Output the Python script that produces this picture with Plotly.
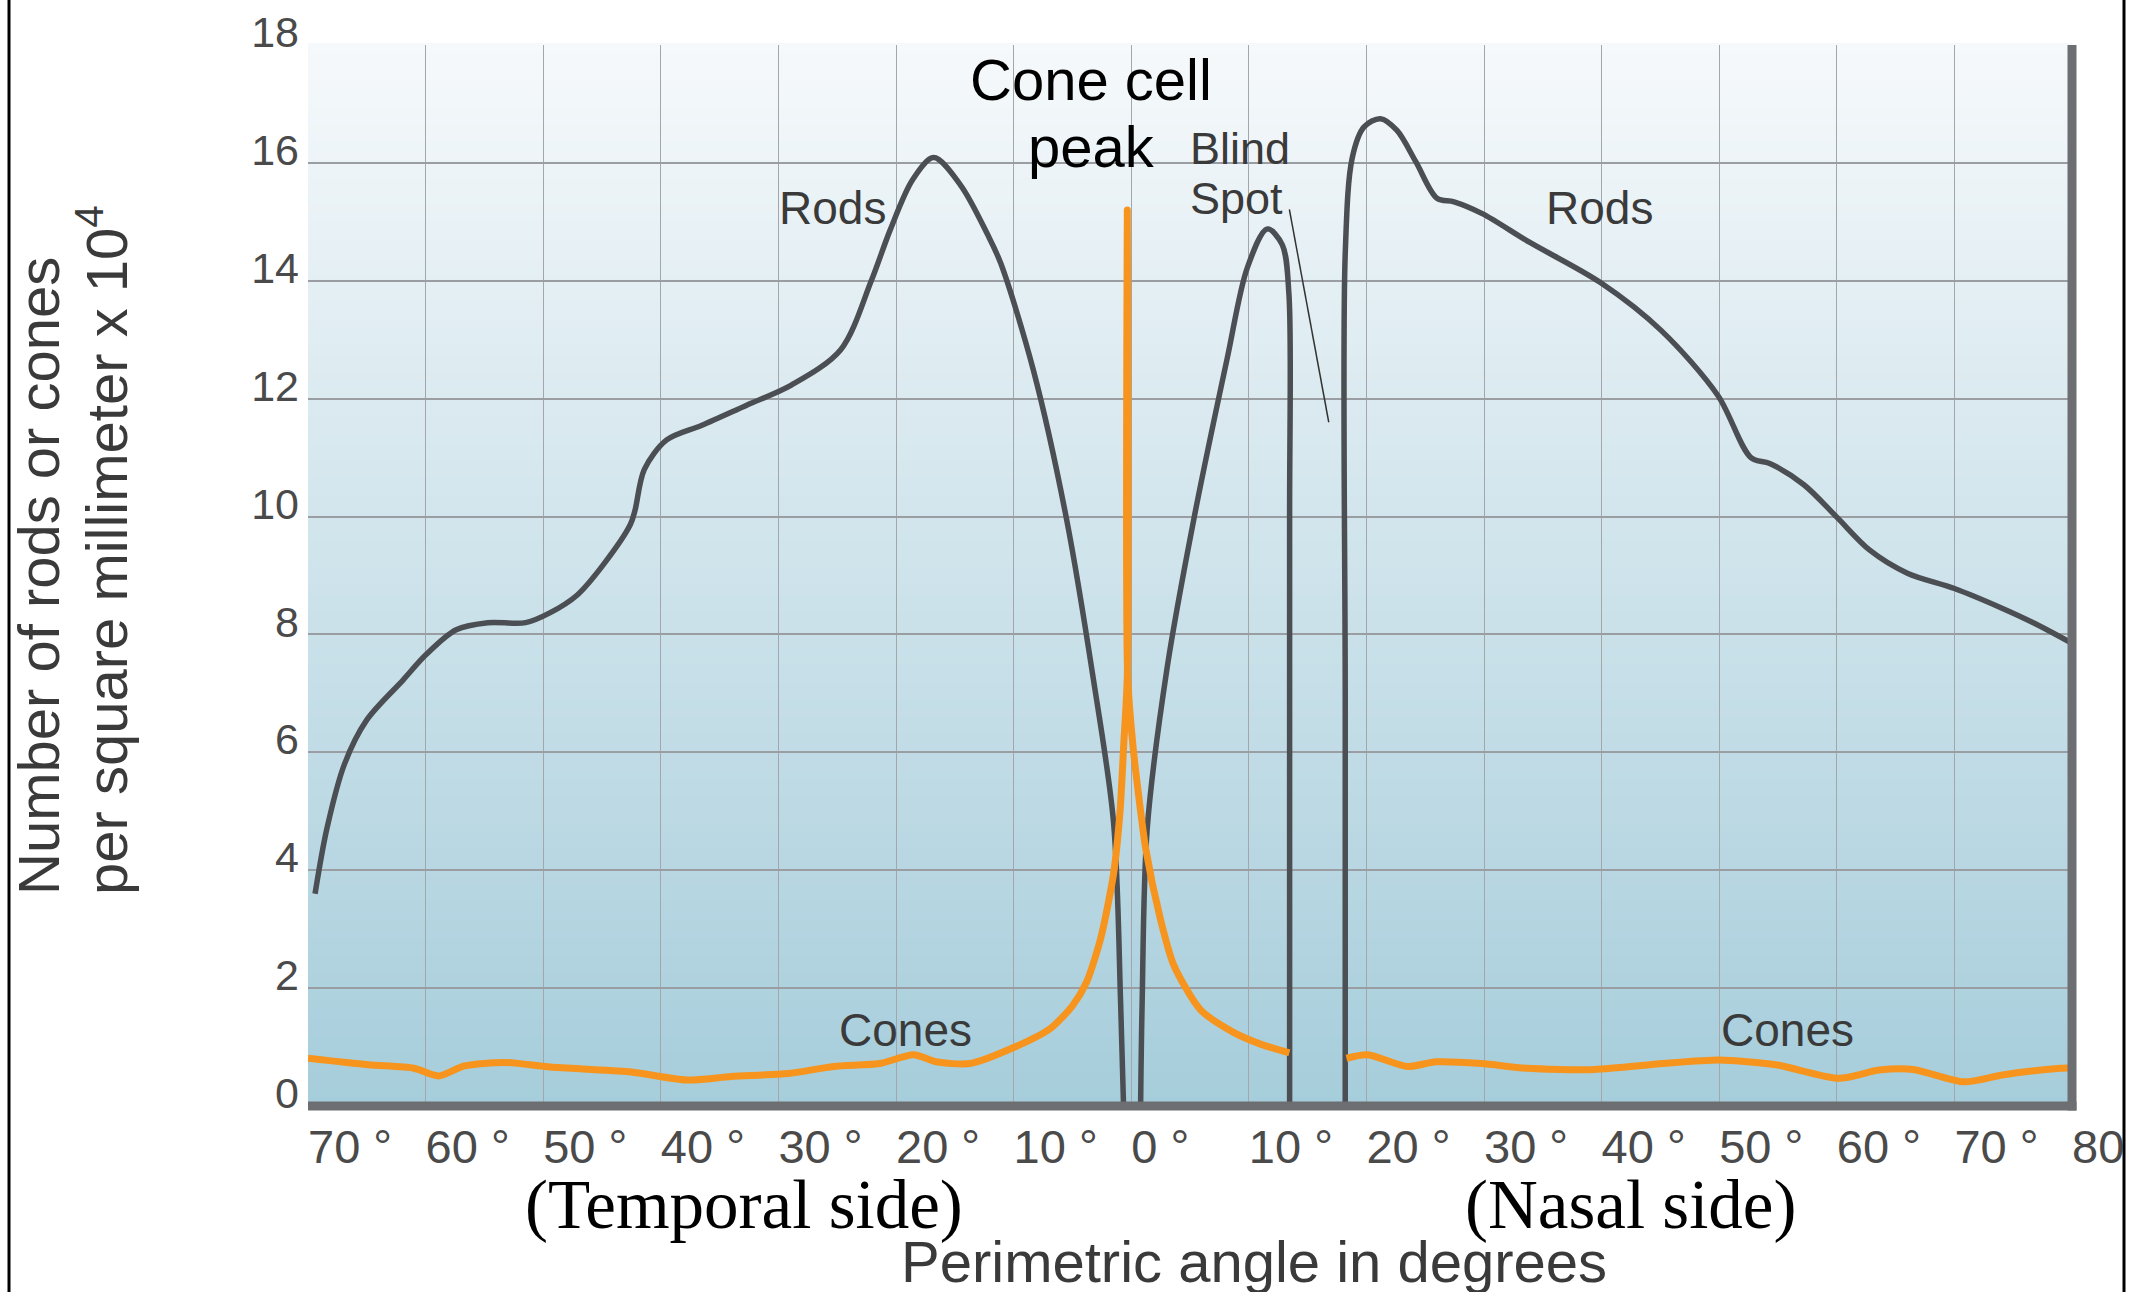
import plotly.graph_objects as go

# Perimetric angle in degrees: negative = temporal side, positive = nasal side.
# Density in rods or cones per square millimetre x 10^4.

# rods, temporal retina down to the fovea
rods_temporal_angle = [-69.4, -68.4, -66.9, -65.0, -61.9, -60.0, -57.4, -54.7, -51.5, -49.4,
                       -47.1, -44.9, -42.6, -42.2, -41.4, -39.5, -36.5, -32.7, -28.9, -24.7,
                       -22.1, -20.5, -18.6, -16.8, -14.5, -12.2, -11.1, -8.3, -5.5, -3.2,
                       -1.5, -0.9, -0.65]
rods_temporal_density = [3.6, 4.7, 5.8, 6.55, 7.23, 7.65, 8.08, 8.2, 8.2, 8.37,
                         8.67, 9.18, 9.86, 10.1, 10.8, 11.3, 11.55, 11.89, 12.23, 12.83,
                         14.0, 14.86, 15.71, 16.09, 15.62, 14.78, 14.3, 12.47, 9.96, 7.22,
                         4.81, 1.75, 0.0]

# rods, fovea up to the blind spot
rods_inner_angle = [0.8, 0.93, 1.36, 3.06, 5.33, 8.17, 9.87, 11.57, 12.85, 13.41, 13.47, 13.47]
rods_inner_density = [0.0, 1.75, 4.7, 7.44, 9.96, 12.69, 14.22, 14.88, 14.61, 13.78, 10.0, 0.0]

# rods, blind spot out to the nasal edge
rods_nasal_angle = [18.2, 18.2, 18.2, 18.8, 19.8, 21.2, 22.6, 24.2, 26.0, 27.45,
                    29.85, 33.9, 39.9, 45.1, 49.9, 52.7, 54.3, 57.2, 60.0, 62.8,
                    66.0, 70.0, 74.0, 76.8, 80.0]
rods_nasal_density = [0.0, 7.0, 14.46, 16.09, 16.61, 16.75, 16.55, 16.02, 15.4, 15.34,
                      15.14, 14.65, 13.97, 13.15, 12.05, 11.0, 10.9, 10.54, 9.99, 9.43,
                      9.04, 8.78, 8.45, 8.19, 7.85]

# cones, temporal edge through the foveal peak to the blind spot
cones_inner_angle = [-70.0, -64.9, -61.0, -58.9, -56.7, -53.3, -49.4, -42.7, -37.8, -34.0,
                     -29.2, -25.3, -21.4, -18.5, -16.6, -13.7, -9.9, -6.9, -5.0, -3.8,
                     -2.6, -1.5, -0.95, -0.63, -0.33, -0.33, -0.3, 0.13, 0.75, 1.23,
                     2.45, 3.6, 5.9, 8.7, 11.0, 13.45]
cones_inner_density = [0.81, 0.70, 0.64, 0.51, 0.68, 0.74, 0.66, 0.58, 0.44, 0.50,
                       0.55, 0.67, 0.72, 0.87, 0.75, 0.72, 1.0, 1.31, 1.7, 2.1,
                       2.84, 3.94, 5.0, 6.15, 7.3, 15.2, 7.3, 6.15, 5.08, 4.37,
                       3.2, 2.4, 1.63, 1.25, 1.05, 0.9]

# cones, blind spot out to the nasal edge
cones_nasal_angle = [18.3, 20.1, 23.5, 25.9, 29.8, 33.6, 39.4, 45.2, 50.0, 54.8,
                     60.2, 63.6, 66.5, 70.8, 74.2, 79.0, 80.0]
cones_nasal_density = [0.81, 0.87, 0.67, 0.75, 0.72, 0.64, 0.62, 0.72, 0.78, 0.70,
                       0.47, 0.61, 0.62, 0.41, 0.53, 0.64, 0.65]

x_ticks = list(range(-70, 81, 10))
x_tick_labels = ["70 °", "60 °", "50 °", "40 °", "30 °", "20 °", "10 °", "0 °",
                 "10 °", "20 °", "30 °", "40 °", "50 °", "60 °", "70 °", "80"]
y_ticks = list(range(0, 19, 2))

ROD_COLOR = "#4b4e52"
CONE_COLOR = "#f7941d"
BAR_COLOR = "#6d6e71"
SANS = "Liberation Sans, Arial, Helvetica, sans-serif"
SERIF = "Liberation Serif, Times New Roman, serif"

W, H = 2140, 1292
L, R, T, B = 308, 68, 45, 186
plot_w, plot_h = W - L - R, H - T - B

rods_x = rods_temporal_angle + [None] + rods_inner_angle + [None] + rods_nasal_angle
rods_y = rods_temporal_density + [None] + rods_inner_density + [None] + rods_nasal_density
cones_x = cones_inner_angle + [None] + cones_nasal_angle
cones_y = cones_inner_density + [None] + cones_nasal_density

fig = go.Figure()
fig.add_trace(go.Scatter(x=rods_x, y=rods_y, mode="lines", name="Rods",
                         line=dict(color=ROD_COLOR, width=5.5, shape="spline", smoothing=0.9),
                         connectgaps=False, hoverinfo="skip"))
fig.add_trace(go.Scatter(x=cones_x, y=cones_y, mode="lines", name="Cones",
                         line=dict(color=CONE_COLOR, width=7, shape="spline", smoothing=0.7),
                         connectgaps=False, hoverinfo="skip"))

# background: white to pale blue, bottom-up, kept under the grid
n_bands = 120
top_rgb, bottom_rgb = (246, 249, 251), (166, 205, 219)
for i in range(n_bands):
    t = (i + 0.5) / n_bands
    r, g, b = [round(lo + (hi - lo) * t) for hi, lo in zip(top_rgb, bottom_rgb)]
    fig.add_shape(type="rect", xref="paper", yref="paper",
                  x0=0, x1=1, y0=i / n_bands, y1=(i + 1) / n_bands + 0.002,
                  fillcolor=f"rgb({r},{g},{b})", line_width=0, layer="below")

# heavy frame on bottom and right, thin outer box lines
px_x, px_y = 1 / plot_w, 1 / plot_h
fig.add_shape(type="rect", xref="paper", yref="paper", x0=0, x1=1 + 4.5 * px_x,
              y0=-4.5 * px_y, y1=4.5 * px_y, fillcolor=BAR_COLOR, line_width=0)
fig.add_shape(type="rect", xref="paper", yref="paper", x0=1 - 4.5 * px_x, x1=1 + 4.5 * px_x,
              y0=-4.5 * px_y, y1=1, fillcolor=BAR_COLOR, line_width=0)
for xp in (9, 2124):
    fig.add_shape(type="line", xref="paper", yref="paper",
                  x0=(xp - L) * px_x, x1=(xp - L) * px_x, y0=-B * px_y, y1=1 + T * px_y,
                  line=dict(color="black", width=3))

# pointer from the "Blind Spot" label
fig.add_shape(type="line", xref="x", yref="y", x0=13.45, y0=15.21, x1=16.8, y1=11.6,
              line=dict(color="#333333", width=1.5))

label_font = dict(family=SANS, size=46, color="#3a3a3a")
for text, x, y in [("Rods", -25.4, 15.24), ("Rods", 39.8, 15.23),
                   ("Cones", -19.2, 1.29), ("Cones", 55.8, 1.29)]:
    fig.add_annotation(x=x, y=y, text=text, showarrow=False, font=label_font,
                       xanchor="center", yanchor="middle")
for text, y in [("Blind", 16.25), ("Spot", 15.4)]:
    fig.add_annotation(x=4.8, y=y, text=text, showarrow=False, xanchor="left", yanchor="middle",
                       font=dict(family=SANS, size=45, color="#3a3a3a"))
for text, y in [("Cone cell", 17.42), ("peak", 16.27)]:
    fig.add_annotation(x=-3.4, y=y, text=text, showarrow=False, xanchor="center", yanchor="middle",
                       font=dict(family=SANS, size=58, color="black"))

# axis titles
for text, xpix in [("Number of rods or cones", 38), ("per square millimeter x 10<sup>4</sup>", 102)]:
    fig.add_annotation(xref="paper", yref="paper", x=(xpix - L) * px_x, y=(1106 - 897) * px_y,
                       text=text, textangle=-90, showarrow=False, xanchor="center", yanchor="bottom",
                       font=dict(family=SANS, size=58, color="#3a3a3a"))
for text, xpix in [("(Temporal side)", 744), ("(Nasal side)", 1630)]:
    fig.add_annotation(xref="paper", yref="paper", x=(xpix - L) * px_x, y=(1106 - 1204.5) * px_y,
                       text=text, showarrow=False, xanchor="center", yanchor="middle",
                       font=dict(family=SERIF, size=69, color="black"))
fig.add_annotation(xref="paper", yref="paper", x=(1254 - L) * px_x, y=(1106 - 1261) * px_y,
                   text="Perimetric angle in degrees", showarrow=False,
                   xanchor="center", yanchor="middle",
                   font=dict(family=SANS, size=58, color="#3a3a3a"))

fig.update_xaxes(range=[-70, 80], tickvals=x_ticks, ticktext=x_tick_labels,
                 showgrid=True, gridcolor="#a3a7ac", gridwidth=1.2, zeroline=False,
                 showline=False, ticks="", ticklabelposition="outside right",
                 ticklabelstandoff=9,
                 tickfont=dict(family=SANS, size=47, color="#4a4a4a"), fixedrange=True)
fig.update_yaxes(range=[0, 18], tickvals=y_ticks,
                 showgrid=True, gridcolor="#9a9ea3", gridwidth=1.6, zeroline=False,
                 showline=False, ticks="", ticklabelshift=-13, ticklabelstandoff=8,
                 tickfont=dict(family=SANS, size=43, color="#4a4a4a"), fixedrange=True)

fig.update_layout(width=W, height=H, template="none", showlegend=False,
                  margin=dict(l=L, r=R, t=T, b=B, autoexpand=False),
                  paper_bgcolor="white", plot_bgcolor="rgba(0,0,0,0)")

fig.write_html("out.html", config={"displayModeBar": False},
               post_script="document.body.style.margin='0';")
